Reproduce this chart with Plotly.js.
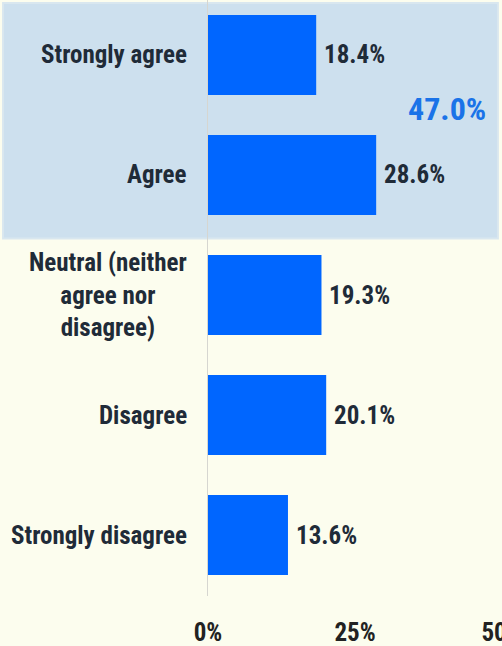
<!DOCTYPE html>
<html>
<head>
<meta charset="utf-8">
<script src="https://cdn.plot.ly/plotly-3.0.1.min.js"></script>
<style>
html,body{margin:0;padding:0;background:#fcfdee;}
#chart{width:502px;height:646px;}
</style>
</head>
<body>
<div id="chart"></div>
<script>
// ---- data ----
const categories = ["Strongly agree", "Agree", "Neutral (neither<br>agree nor<br>disagree)", "Disagree", "Strongly disagree"];
const values = [18.4, 28.6, 19.3, 20.1, 13.6];
const agreeTotalLabel = "47.0%";
const xTickVals = [0, 25, 50];
const xTickText = ["0%", "25%", "50%"];

const FONT = "'Liberation Sans Narrow', 'Roboto Condensed', 'DejaVu Sans Condensed', 'Arial Narrow', sans-serif";
const TXT = "#1f2b38";

const catIdx = categories.map((c, i) => i);

const trace = {
  type: "bar",
  orientation: "h",
  x: values,
  y: catIdx,
  marker: {color: "#0066ff", line: {width: 0}},
  width: 0.667,
  hoverinfo: "skip"
};

const annotations = [];
categories.forEach((c, i) => {
  annotations.push({
    xref: "paper", yref: "y", x: -0.065, y: i,
    xanchor: "right", yanchor: "middle", align: "center",
    text: c, showarrow: false,
    font: {family: FONT, size: 25, color: TXT, weight: 700}
  });
  annotations.push({
    xref: "x", yref: "y", x: values[i], y: i,
    xanchor: "left", yanchor: "middle", xshift: 6,
    text: values[i].toFixed(1) + "%", showarrow: false,
    font: {family: FONT, size: 25, color: TXT, weight: 700}
  });
});
annotations.push({
  xref: "x", yref: "y", x: 40.6, y: 0.45,
  xanchor: "center", yanchor: "middle",
  text: agreeTotalLabel, showarrow: false,
  font: {family: FONT, size: 32, color: "#1a73e8", weight: 700}
});

const layout = {
  width: 502, height: 646,
  margin: {l: 208, r: 0, t: 0, b: 50, pad: 0},
  paper_bgcolor: "#fcfdee",
  plot_bgcolor: "rgba(0,0,0,0)",
  showlegend: false,
  bargap: 0.333,
  xaxis: {
    range: [0, 50], tickvals: xTickVals, ticktext: xTickText,
    showgrid: false, zeroline: false, showline: false,
    ticks: "outside", ticklen: 14, tickcolor: "rgba(0,0,0,0)",
    ticklabeloverflow: "allow",
    tickfont: {family: FONT, size: 25, color: "#222222", weight: 700},
    fixedrange: true
  },
  yaxis: {
    range: [4.508, -0.458], showticklabels: false,
    showgrid: false, zeroline: false,
    showline: true, linecolor: "#d6d6d0", linewidth: 1,
    fixedrange: true
  },
  shapes: [{
    type: "rect", xref: "paper", yref: "paper", layer: "below",
    x0: -0.697, x1: 0.986, y0: 0.6, y1: 0.995,
    fillcolor: "#cde0ee", line: {color: "#d9e7ef", width: 2}
  }],
  annotations: annotations
};

Plotly.newPlot("chart", [trace], layout, {displayModeBar: false, staticPlot: true});
</script>
</body>
</html>
